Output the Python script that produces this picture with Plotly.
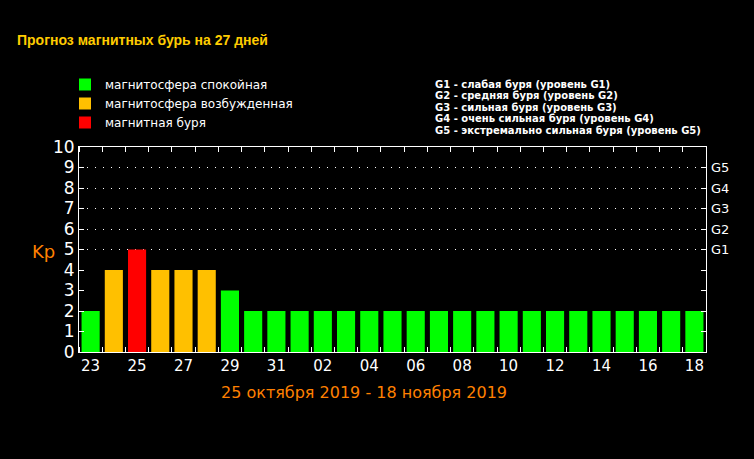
import plotly.graph_objects as go

# ---- data ----
day_labels = ["23", "24", "25", "26", "27", "28", "29", "30", "31",
              "01", "02", "03", "04", "05", "06", "07", "08", "09", "10",
              "11", "12", "13", "14", "15", "16", "17", "18"]
kp_values = [2, 4, 5, 4, 4, 4, 3, 2, 2,
             2, 2, 2, 2, 2, 2, 2, 2, 2, 2,
             2, 2, 2, 2, 2, 2, 2, 2]
category_names = ["магнитосфера спокойная", "магнитосфера возбужденная", "магнитная буря"]
category_colors = ["#00ff00", "#ffc000", "#ff0000"]
g_levels = ["G1", "G2", "G3", "G4", "G5"]
g_kp = [5, 6, 7, 8, 9]
g_descriptions = [
    "G1 - слабая буря (уровень G1)",
    "G2 - средняя буря (уровень G2)",
    "G3 - сильная буря (уровень G3)",
    "G4 - очень сильная буря (уровень G4)",
    "G5 - экстремально сильная буря (уровень G5)",
]
title_text = "Прогноз магнитных бурь на 27 дней"
date_range_text = "25 октября 2019 - 18 ноября 2019"

def category(v):
    if v >= 5:
        return 2
    if v >= 4:
        return 1
    return 0

n = len(kp_values)
idx = list(range(n))

fig = go.Figure()
for c, (name, col) in enumerate(zip(category_names, category_colors)):
    xs = [i for i in idx if category(kp_values[i]) == c]
    ys = [kp_values[i] for i in xs]
    fig.add_trace(go.Bar(x=xs, y=ys, name=name, marker=dict(color=col, line=dict(width=0)),
                         width=0.78, yaxis="y"))

# invisible trace for the right axis
fig.add_trace(go.Scatter(x=[0], y=[0], yaxis="y2", mode="markers",
                         marker=dict(opacity=0), showlegend=False, hoverinfo="skip"))

fig.update_layout(
    width=754, height=459,
    paper_bgcolor="black", plot_bgcolor="black",
    margin=dict(l=79, r=48, t=147, b=107),
    barmode="overlay",
    showlegend=True,
    legend=dict(x=-(79 - 65) / 627, y=1 + (147 - 70) / 205, xanchor="left", yanchor="top",
                font=dict(family="DejaVu Sans", size=12, color="white"),
                bgcolor="rgba(0,0,0,0)", tracegroupgap=0, itemwidth=30),
    xaxis=dict(range=[-0.5, n - 0.5], tickvals=idx[::2], ticktext=day_labels[::2],
               ticks="", showgrid=False, zeroline=False,
               showline=True, linecolor="white", linewidth=1, mirror="allticks",
               tickfont=dict(family="DejaVu Sans", size=15, color="white"),
               minor=dict(tick0=0.5, dtick=1, ticks="inside", ticklen=5,
                          tickcolor="white", tickwidth=1, showgrid=False)),
    yaxis=dict(range=[0, 10], tickvals=list(range(11)), ticks="inside", ticklen=5,
               tickcolor="white", showgrid=False, zeroline=False,
               showline=True, linecolor="white", linewidth=1, mirror="ticks",
               tickfont=dict(family="DejaVu Sans", size=17, color="white")),
    yaxis2=dict(range=[0, 10], overlaying="y", side="right", tickvals=g_kp,
                ticktext=g_levels, ticks="", showline=False, zeroline=False,
                showgrid=True, gridcolor="white", gridwidth=1, griddash="1px,7px",
                ticklabelstandoff=4,
                tickfont=dict(family="DejaVu Sans", size=13, color="white")),
)

annotations = [
    dict(text="<b>" + title_text + "</b>", xref="paper", yref="paper",
         x=-(79 - 15) / 627, y=1 + (147 - 40) / 205, xanchor="left", yanchor="middle",
         showarrow=False, font=dict(family="Liberation Sans", size=14, color="#ffcc00")),
    dict(text="Kp", xref="paper", yref="paper", x=-(79 - 30) / 627, y=(352 - 251) / 205,
         xanchor="left", yanchor="middle", showarrow=False,
         font=dict(family="DejaVu Sans", size=18, color="#ff8000")),
    dict(text=date_range_text, xref="paper", yref="paper", x=(364 - 79) / 627,
         y=-(392 - 352) / 205, xanchor="center", yanchor="middle", showarrow=False,
         font=dict(family="DejaVu Sans", size=16, color="#ff8000")),
]
for k, line in enumerate(g_descriptions):
    annotations.append(dict(text="<b>" + line + "</b>", xref="paper", yref="paper",
                            x=(433 - 79) / 627, y=1 + (147 - (84 + 11.5 * k)) / 205,
                            xanchor="left", yanchor="middle", showarrow=False,
                            font=dict(family="DejaVu Sans", size=10, color="white")))
fig.update_layout(annotations=annotations)

fig.write_html("out.html", config={"displayModeBar": False},
               post_script="document.body.style.margin='0';document.body.style.background='black';")
